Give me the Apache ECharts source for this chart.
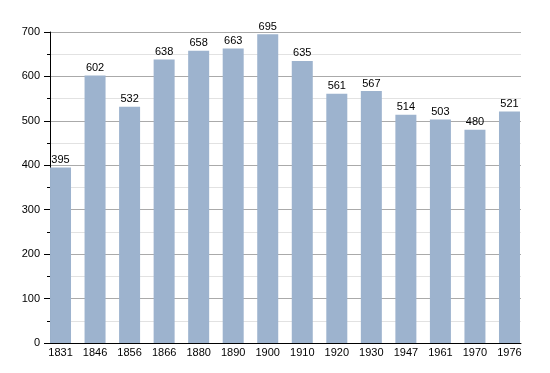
<!DOCTYPE html>
<html><head><meta charset="utf-8">
<script src="https://cdn.jsdelivr.net/npm/echarts@6/dist/echarts.min.js"></script>
<style>html,body{margin:0;padding:0;background:#fff}#c{width:550px;height:373px}</style>
</head><body><div id="c"></div>
<script>
const years = ['1831','1846','1856','1866','1880','1890','1900','1910','1920','1930','1947','1961','1970','1976'];
const population = [395,602,532,638,658,663,695,635,561,567,514,503,480,521];
const yTicks = {min:0, max:700, interval:100};

const font = 'Liberation Sans, Arial, sans-serif';
const chart = echarts.init(document.getElementById('c'), null, {renderer:'canvas'});
chart.setOption({
  animation:false,
  grid:[
    {left:50, right:29, top:32, bottom:30},
    {left:43.25, right:23.25, top:32, bottom:30}
  ],
  xAxis:[
    {gridIndex:0, type:'value', min:0, max:1, axisLine:{show:true,lineStyle:{color:'#000',width:1}}, axisTick:{show:false}, axisLabel:{show:false}, splitLine:{show:false}},
    {gridIndex:1, type:'category', data:years, axisLine:{show:false}, axisTick:{show:false},
     axisLabel:{color:'#000', fontSize:11, fontFamily:font, margin:4}}
  ],
  yAxis:[
    {gridIndex:0, type:'value', min:yTicks.min, max:yTicks.max, interval:yTicks.interval,
     axisLine:{show:true,lineStyle:{color:'#000',width:1}},
     axisTick:{show:true,length:6,lineStyle:{color:'#000'}},
     minorTick:{show:true,splitNumber:2,length:3,lineStyle:{color:'#000'}},
     axisLabel:{color:'#000', fontSize:11, fontFamily:font, margin:10},
     splitLine:{show:true,lineStyle:{color:'#aaaaaa',width:1}},
     minorSplitLine:{show:true,lineStyle:{color:'#e2e2e2',width:1}}},
    {gridIndex:1, type:'value', min:yTicks.min, max:yTicks.max, show:false, splitLine:{show:false}}
  ],
  series:[{
    type:'bar', xAxisIndex:1, yAxisIndex:1, data:population, barWidth:21,
    itemStyle:{color:'#9db3ce'},
    label:{show:true, position:'top', distance:2, color:'#000', fontSize:11, fontFamily:font}
  }]
});
</script></body></html>
